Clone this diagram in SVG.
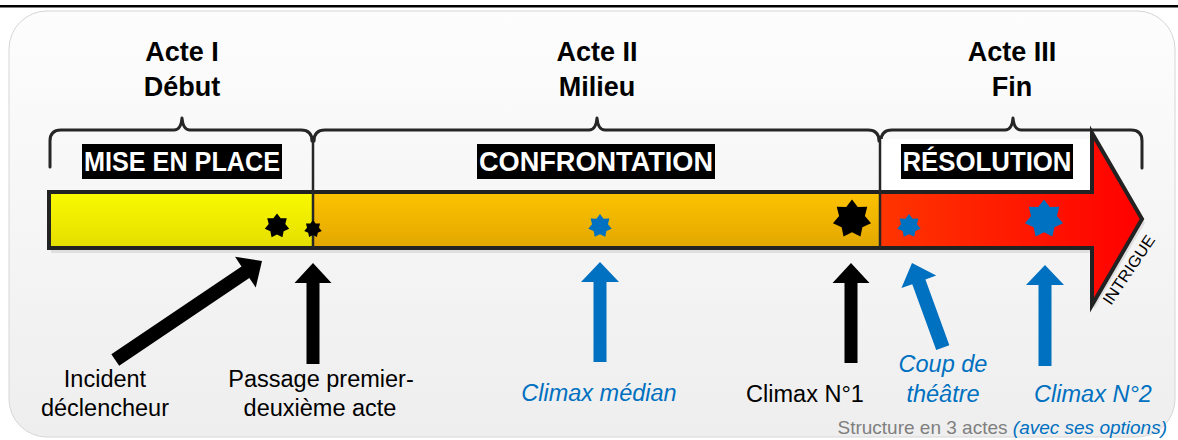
<svg xmlns="http://www.w3.org/2000/svg" width="1178" height="440" viewBox="0 0 1178 440">
<style>
.title{font-family:"Liberation Sans",Arial,sans-serif;font-weight:bold;font-size:27px;fill:#000;text-anchor:middle}
.lbl{font-family:"Liberation Sans",Arial,sans-serif;font-weight:bold;font-size:27px;fill:#fff;text-anchor:middle}
.cap{font-family:"Liberation Sans",Arial,sans-serif;font-size:23.5px;fill:#000;text-anchor:middle}
.capb{font-family:"Liberation Sans",Arial,sans-serif;font-size:23.5px;font-style:italic;fill:#0070c0;text-anchor:middle}
.brace{fill:none;stroke:#262626;stroke-width:3;stroke-linecap:round;stroke-linejoin:round}
.div{stroke:#262626;stroke-width:2.5}
.blk{fill:#000}
.blu{fill:#0070c0}
</style>
<defs>
<linearGradient id="panel" x1="0" y1="0" x2="0" y2="1"><stop offset="0" stop-color="#fdfdfd"/><stop offset="1" stop-color="#eeeeee"/></linearGradient>
<linearGradient id="yel" x1="0" y1="0" x2="0" y2="1"><stop offset="0" stop-color="#fafa00"/><stop offset="1" stop-color="#e4de00"/></linearGradient>
<linearGradient id="ora" x1="0" y1="0" x2="0" y2="1"><stop offset="0" stop-color="#fdc300"/><stop offset="1" stop-color="#e2a700"/></linearGradient>
<linearGradient id="red" x1="880" y1="0" x2="1142" y2="0" gradientUnits="userSpaceOnUse"><stop offset="0" stop-color="#ff3500"/><stop offset="1" stop-color="#ff0000"/></linearGradient>
<polygon id="star" points="0,-10 2.95,-6.13 7.818,-6.235 6.63,-1.51 9.749,2.225 5.32,4.24 4.339,9.010 0,6.8 -4.339,9.010 -5.32,4.24 -9.749,2.225 -6.63,-1.51 -7.818,-6.235 -2.95,-6.13"/>
</defs>

<rect x="0" y="5" width="1178" height="2.5" fill="#000"/>
<rect id="panelbg" x="9" y="11" width="1166" height="426" rx="38" ry="38" fill="url(#panel)" stroke="#d6d6d6" stroke-width="1"/>

<g id="acts">
<text class="title" x="182" y="61">Acte I</text>
<text class="title" x="182" y="96">Début</text>
<text class="title" x="597" y="61">Acte II</text>
<text class="title" x="597" y="96">Milieu</text>
<text class="title" x="1012" y="61">Acte III</text>
<text class="title" x="1012" y="96">Fin</text>
</g>

<g id="braces">
<path class="brace" d="M50,167 L50,141 Q50,130 61,130 L174,130 Q181,130 182,118 Q183,130 190,130 L301,130 Q312,130 312,141"/>
<path class="brace" d="M314,141 Q314,130 325,130 L589,130 Q596,130 597,118 Q598,130 605,130 L868,130 Q879,130 879,141"/>
<path class="brace" d="M881,141 Q881,130 892,130 L1005,130 Q1012,130 1013,118 Q1014,130 1021,130 L1131,130 Q1142,130 1142,141 L1142,168"/>
</g>

<g id="bar">
<rect x="881" y="139" width="211" height="52" fill="#ffffff"/>
<polygon points="51,196 1094,196 1094,137 1145,223 1094,309 1094,253 51,253" fill="#c8c8c8" opacity="0.5"/>
<rect x="50" y="192" width="263" height="56" fill="url(#yel)"/>
<rect x="313" y="192" width="567" height="56" fill="url(#ora)"/>
<polygon points="880,192 1092,192 1092,133 1142,219 1092,305 1092,248 880,248" fill="url(#red)"/>
<path d="M49,192 L1092,192 L1092,133 L1142,219 L1092,305 L1092,248 L49,248 Z" fill="none" stroke="#222" stroke-width="4" stroke-linejoin="miter"/>
<line class="div" x1="313" y1="139" x2="313" y2="248"/>
<line class="div" x1="880" y1="139" x2="880" y2="248"/>
<text x="0" y="0" transform="translate(1111,306) rotate(-56)" font-family="Liberation Sans, Arial, sans-serif" font-size="16" textLength="80" lengthAdjust="spacingAndGlyphs" fill="#000">INTRIGUE</text>
</g>

<g id="labels">
<rect x="82" y="144" width="200" height="35" fill="#000"/>
<text class="lbl" x="182" y="171" textLength="196" lengthAdjust="spacingAndGlyphs">MISE EN PLACE</text>
<rect x="477" y="144" width="238" height="35" fill="#000"/>
<text class="lbl" x="596" y="171" textLength="234" lengthAdjust="spacingAndGlyphs">CONFRONTATION</text>
<rect x="901" y="144" width="172" height="35" fill="#000"/>
<text class="lbl" x="987" y="171" textLength="169" lengthAdjust="spacingAndGlyphs">RÉSOLUTION</text>
</g>

<g id="stars">
<use href="#star" class="blk" transform="translate(277,226) scale(1.25)"/>
<use href="#star" class="blk" transform="translate(313,229) scale(0.9)"/>
<use href="#star" class="blu" transform="translate(600,226) scale(1.2)"/>
<use href="#star" class="blk" transform="translate(852,219) scale(1.95)"/>
<use href="#star" class="blu" transform="translate(909,226) scale(1.2)"/>
<use href="#star" class="blu" transform="translate(1044,219) scale(1.95)"/>
</g>

<g id="connectors">
<polygon class="blk" transform="translate(262,261) rotate(56)" points="0,0 18.5,20 7,20 7,177 -7,177 -7,20 -18.5,20"/>
<polygon class="blk" transform="translate(313,263)" points="0,0 18.5,20 6.5,20 6.5,101 -6.5,101 -6.5,20 -18.5,20"/>
<polygon class="blu" transform="translate(600,262)" points="0,0 19,20 6.5,20 6.5,100 -6.5,100 -6.5,20 -19,20"/>
<polygon class="blk" transform="translate(851,263)" points="0,0 18.5,20 6.5,20 6.5,100 -6.5,100 -6.5,20 -18.5,20"/>
<polygon class="blu" transform="translate(912,263) rotate(-20)" points="0,0 18.5,20 7,20 7,90 -7,90 -7,20 -18.5,20"/>
<polygon class="blu" transform="translate(1045,265)" points="0,0 19,20 6.5,20 6.5,101 -6.5,101 -6.5,20 -19,20"/>
</g>

<g id="captions">
<text class="cap" x="105" y="387">Incident</text>
<text class="cap" x="105" y="416">déclencheur</text>
<text class="cap" x="321" y="387">Passage premier-</text>
<text class="cap" x="320" y="416">deuxième acte</text>
<text class="capb" x="599" y="401">Climax médian</text>
<text class="cap" x="805" y="402">Climax N°1</text>
<text class="capb" x="943" y="372">Coup de</text>
<text class="capb" x="943" y="402">théâtre</text>
<text class="capb" x="1093" y="402">Climax N°2</text>
<text x="1167" y="434" text-anchor="end" font-family="Liberation Sans, Arial, sans-serif" font-size="19" fill="#7f7f7f">Structure en 3 actes <tspan fill="#0070c0" font-style="italic">(avec ses options)</tspan></text>
</g>
</svg>
